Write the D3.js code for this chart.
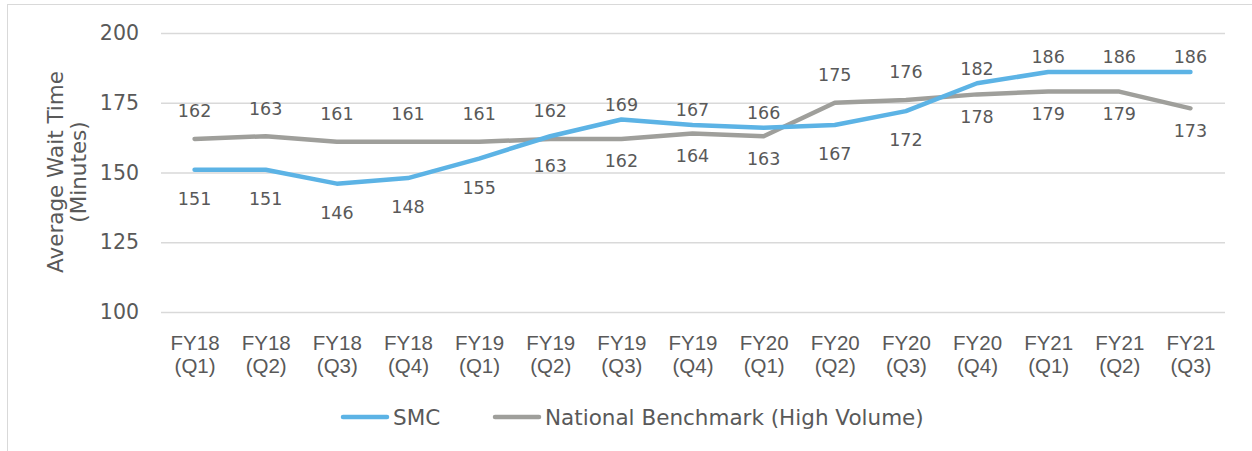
<!DOCTYPE html>
<html>
<head>
<meta charset="utf-8">
<script src="https://cdn.jsdelivr.net/npm/d3@7"></script>
<style>
  body { margin: 0; background: #fff; }
  svg { font-family: "DejaVu Sans", Verdana, sans-serif; }
</style>
</head>
<body>
<div id="chart"></div>
<script>
// data
var quarters = ["FY18 (Q1)", "FY18 (Q2)", "FY18 (Q3)", "FY18 (Q4)", "FY19 (Q1)", "FY19 (Q2)", "FY19 (Q3)", "FY19 (Q4)",
                "FY20 (Q1)", "FY20 (Q2)", "FY20 (Q3)", "FY20 (Q4)", "FY21 (Q1)", "FY21 (Q2)", "FY21 (Q3)"];
var smc = [151, 151, 146, 148, 155, 163, 169, 167, 166, 167, 172, 182, 186, 186, 186];
var national = [162, 163, 161, 161, 161, 162, 162, 164, 163, 175, 176, 178, 179, 179, 173];
var yTicks = [100, 125, 150, 175, 200];

var w = 1252, h = 451;
var margin = { top: 33, right: 26, bottom: 139, left: 159 };
var iw = w - margin.left - margin.right,
    ih = h - margin.top - margin.bottom;

var blue = "#5CB3E5", grey = "#9F9F9B", txt = "#595959";

var svg = d3.select("#chart").append("svg")
    .attr("width", w)
    .attr("height", h);

// outer chart border
svg.append("rect")
    .attr("x", 7.5).attr("y", 4.5)
    .attr("width", w + 10).attr("height", h + 10)
    .attr("fill", "none")
    .attr("stroke", "#D9D9D9");

var g = svg.append("g")
    .attr("transform", "translate(" + margin.left + "," + margin.top + ")");

var x = d3.scalePoint()
    .domain(quarters)
    .range([0, iw])
    .padding(0.5);

var y = d3.scaleLinear()
    .domain([100, 200])
    .range([ih, 0]);

// gridlines
g.selectAll(".grid")
    .data(yTicks)
    .enter().append("line")
    .attr("x1", 2).attr("x2", iw - 1)
    .attr("y1", function(d) { return y(d) + 0.5; })
    .attr("y2", function(d) { return y(d) + 0.5; })
    .attr("stroke", "#D9D9D9")
    .attr("stroke-width", 1.5);

// y axis
var yAxis = g.append("g")
    .call(d3.axisLeft(y).tickValues(yTicks).tickSize(0).tickPadding(20));
yAxis.select(".domain").remove();
yAxis.selectAll("text")
    .style("font-size", "20.5px")
    .attr("fill", txt)
    .attr("font-family", "DejaVu Sans, Verdana, sans-serif");

// x axis labels (two lines)
var xAxis = g.append("g")
    .attr("transform", "translate(0," + ih + ")")
    .call(d3.axisBottom(x).tickSize(0).tickFormat(""));
xAxis.select(".domain").remove();
xAxis.selectAll(".tick").each(function(d) {
    var parts = d.split(" ");
    var t = d3.select(this).append("text")
        .attr("text-anchor", "middle")
        .attr("fill", txt)
        .style("font-size", "20.5px");
    t.append("tspan").attr("x", 0).attr("y", 38).text(parts[0]);
    t.append("tspan").attr("x", 0).attr("y", 61).text(parts[1]);
});

// y axis title
svg.append("text")
    .attr("transform", "translate(67," + (margin.top + 139) + ") rotate(-90)")
    .attr("text-anchor", "middle")
    .attr("fill", txt)
    .style("font-size", "21.5px")
    .selectAll("tspan")
    .data(["Average Wait Time", "(Minutes)"])
    .enter().append("tspan")
    .attr("x", 0)
    .attr("dy", function(d, i) { return i === 0 ? "-0.2em" : "1.1em"; })
    .text(function(d) { return d; });

var line = d3.line()
    .x(function(d, i) { return x(quarters[i]); })
    .y(function(d) { return y(d); });

g.append("path")
    .datum(national)
    .attr("fill", "none")
    .attr("stroke", grey)
    .attr("stroke-width", 4.5)
    .attr("stroke-linecap", "round")
    .attr("stroke-linejoin", "round")
    .attr("d", line);

g.append("path")
    .datum(smc)
    .attr("fill", "none")
    .attr("stroke", blue)
    .attr("stroke-width", 4.5)
    .attr("stroke-linecap", "round")
    .attr("stroke-linejoin", "round")
    .attr("d", line);

// data labels: the higher series sits above, the benchmark wins near-ties
function labels(values, other, isSmc, offAbove, offBelow) {
    g.selectAll(null)
        .data(values)
        .enter().append("text")
        .attr("x", function(d, i) { return x(quarters[i]); })
        .attr("y", function(d, i) {
            var above = isSmc ? (d - other[i] > 1) : !(other[i] - d > 1);
            return above ? y(d) - offAbove : y(d) + offBelow;
        })
        .attr("dy", "0.36em")
        .attr("text-anchor", "middle")
        .attr("fill", txt)
        .style("font-size", "17.5px")
        .text(function(d) { return d; });
}
labels(smc, national, true, 15, 29);
labels(national, smc, false, 28, 22);

// legend
var legend = [{ name: "SMC", color: blue, x: 343 }, { name: "National Benchmark (High Volume)", color: grey, x: 495 }];
var lg = svg.selectAll(".legend")
    .data(legend)
    .enter().append("g")
    .attr("transform", function(d) { return "translate(" + d.x + ",417)"; });
lg.append("line")
    .attr("x1", 0).attr("x2", 44)
    .attr("stroke", function(d) { return d.color; })
    .attr("stroke-width", 4.5)
    .attr("stroke-linecap", "round");
lg.append("text")
    .attr("x", 50)
    .attr("dy", "0.36em")
    .attr("fill", txt)
    .style("font-size", "21.5px")
    .text(function(d) { return d.name; });
</script>
</body>
</html>
